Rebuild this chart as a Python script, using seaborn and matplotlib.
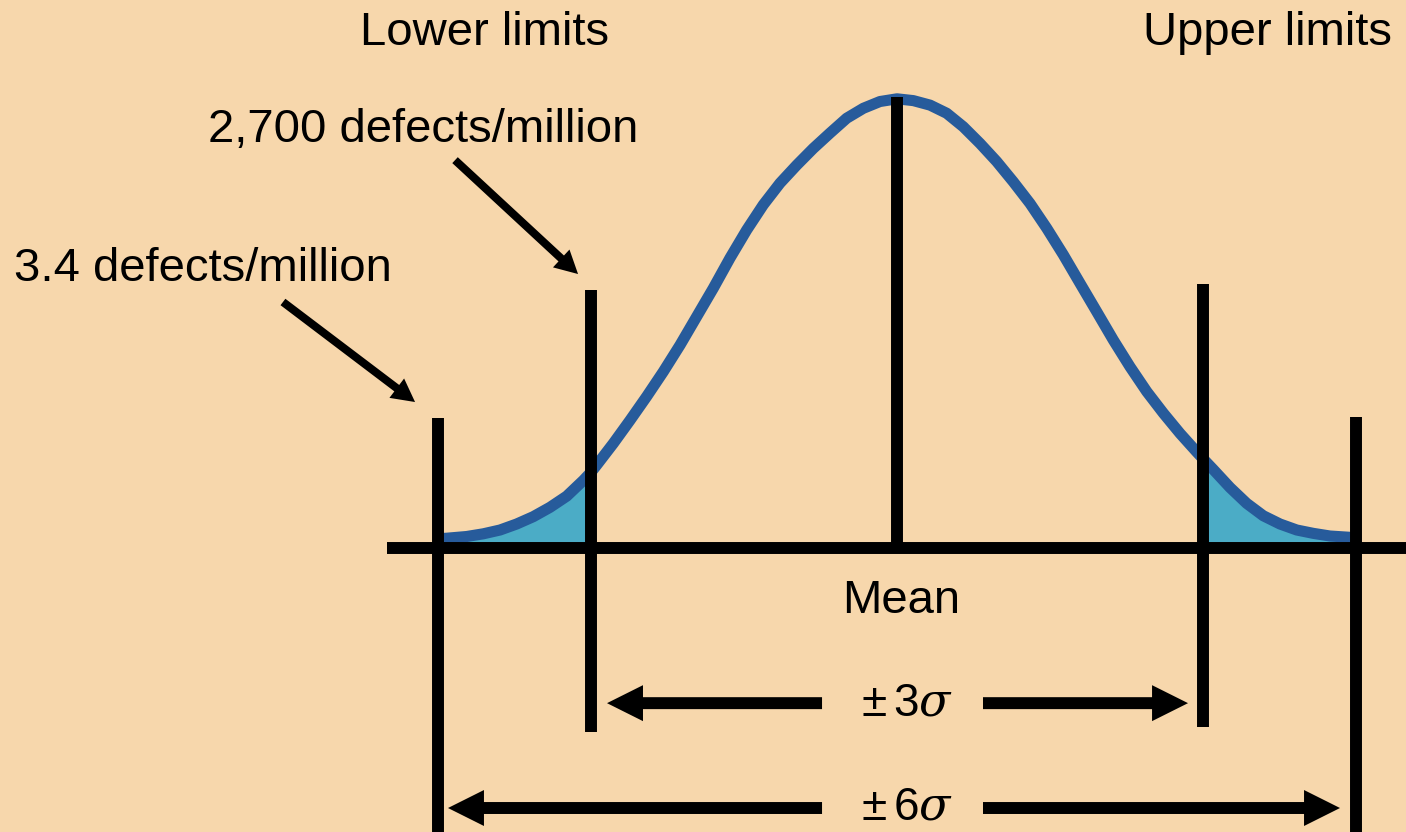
import matplotlib
matplotlib.use("Agg")
import matplotlib.pyplot as plt
import pandas as pd
import seaborn as sns

# curve: position in sigma units, height relative to peak
curve_z = [-4.500, -4.415, -4.219, -4.056, -3.892, -3.729, -3.566, -3.402,
           -3.238, -3.075, -3.000, -2.944, -2.781, -2.618, -2.454, -2.291,
           -2.127, -1.964, -1.801, -1.637, -1.474, -1.311, -1.147, -0.983,
           -0.821, -0.657, -0.493, -0.330, -0.167, 0.000, 0.160, 0.324,
           0.487, 0.650, 0.814, 0.977, 1.140, 1.304, 1.468, 1.631,
           1.794, 1.958, 2.121, 2.284, 2.448, 2.611, 2.775, 2.938,
           3.000, 3.101, 3.265, 3.428, 3.591, 3.755, 3.919, 4.081,
           4.245, 4.441, 4.500]
curve_h = [0.0205, 0.0217, 0.0255, 0.0315, 0.0399, 0.0532, 0.0695, 0.0902,
           0.1150, 0.1500, 0.1680, 0.1840, 0.2320, 0.2830, 0.3360, 0.3910,
           0.4500, 0.5130, 0.5760, 0.6430, 0.7050, 0.7610, 0.8090, 0.8490,
           0.8860, 0.9200, 0.9530, 0.9750, 0.9900, 0.9960, 0.9920, 0.9820,
           0.9640, 0.9340, 0.8970, 0.8570, 0.8120, 0.7640, 0.7090, 0.6500,
           0.5870, 0.5240, 0.4610, 0.4020, 0.3470, 0.2990, 0.2540, 0.2130,
           0.1980, 0.1740, 0.1340, 0.0990, 0.0715, 0.0532, 0.0399, 0.0325,
           0.0266, 0.0237, 0.0230]

# limit lines: position, top, bottom
limit_z = [-4.5, -3.0, 0.0, 3.0, 4.5]
limit_top = [0.288, 0.572, 1.000, 0.585, 0.290]
limit_bottom = [-0.70, -0.408, 0.0, -0.397, -0.70]

range_labels = [r"$\pm\,3\sigma$", r"$\pm\,6\sigma$"]
range_rows = [-0.344, -0.5765]
range_tips = [(-2.843, 2.853), (-4.402, 4.343)]

defect_labels = ["2,700 defects/million", "3.4 defects/million"]

BG = "#F7D7AC"
BLUE = "#275B9B"
FILL = "#4BACC6"

sns.set_theme(style="white", rc={"axes.facecolor": BG, "figure.facecolor": BG})
plt.rcParams["font.family"] = ["Liberation Sans", "DejaVu Sans"]
plt.rcParams["mathtext.fontset"] = "custom"
plt.rcParams["mathtext.rm"] = "Liberation Sans"
plt.rcParams["mathtext.it"] = "DejaVu Serif:italic"
plt.rcParams["mathtext.fallback"] = "stix"
plt.rcParams["text.color"] = "black"

df = pd.DataFrame({"z": curve_z, "h": curve_h})

fig = plt.figure(figsize=(14.06, 8.32), dpi=100)
ax = fig.add_axes([0, 0, 1, 1])
ax.set_xlim(-8.794, 4.990)
ax.set_ylim(-0.6297, 1.2151)
ax.axis("off")

# shaded tails
left = df[df.z <= -3.0]
right = df[df.z >= 3.0]
ax.fill_between(left.z, left.h, 0, color=FILL, lw=0, zorder=1)
ax.fill_between(right.z, right.h, 0, color=FILL, lw=0, zorder=1)

sns.lineplot(data=df, x="z", y="h", color=BLUE, lw=8, estimator=None,
             sort=True, ax=ax, zorder=2, solid_joinstyle="round",
             solid_capstyle="butt")
ax.set_xlabel("")
ax.set_ylabel("")

# baseline and limit lines
ax.hlines(0, -5.0, 5.2, color="black", lw=8.6, zorder=3, capstyle="butt")
ax.vlines(limit_z, limit_bottom, limit_top, color="black", lw=8.6, zorder=3,
          capstyle="butt")

fs = 34
ax.text(-4.039, 1.1153, "Lower limits", ha="center", va="baseline", fontsize=fs)
ax.text(3.637, 1.1153, "Upper limits", ha="center", va="baseline", fontsize=fs)
ax.text(-4.642, 0.9002, defect_labels[0], ha="center", va="baseline", fontsize=fs)
ax.text(-6.809, 0.592, defect_labels[1], ha="center", va="baseline", fontsize=fs)
ax.text(0.039, -0.1441, "Mean", ha="center", va="baseline", fontsize=fs)

# range arrows
big = dict(arrowstyle="simple,head_length=25.9,head_width=25.9,tail_width=8.6",
           mutation_scale=1, fc="black", ec="none", lw=0, shrinkA=0, shrinkB=0)
for label, row, (lo, hi) in zip(range_labels, range_rows, range_tips):
    ax.annotate("", xy=(lo, row), xytext=(-0.735, row), arrowprops=big)
    ax.annotate("", xy=(hi, row), xytext=(0.843, row), arrowprops=big)
    ax.text(0.098, row - 0.0263, label, ha="center", va="baseline", fontsize=33)

# pointer arrows
small = dict(arrowstyle="simple,head_length=16.5,head_width=17.5,tail_width=5.8",
             mutation_scale=1, fc="black", ec="none", lw=0, shrinkA=0, shrinkB=0)
ax.annotate("", xy=(-3.127, 0.6075), xytext=(-4.333, 0.860), arrowprops=small)
ax.annotate("", xy=(-4.725, 0.3237), xytext=(-6.020, 0.5455), arrowprops=small)

fig.savefig("out.png", dpi=100, facecolor=BG)
